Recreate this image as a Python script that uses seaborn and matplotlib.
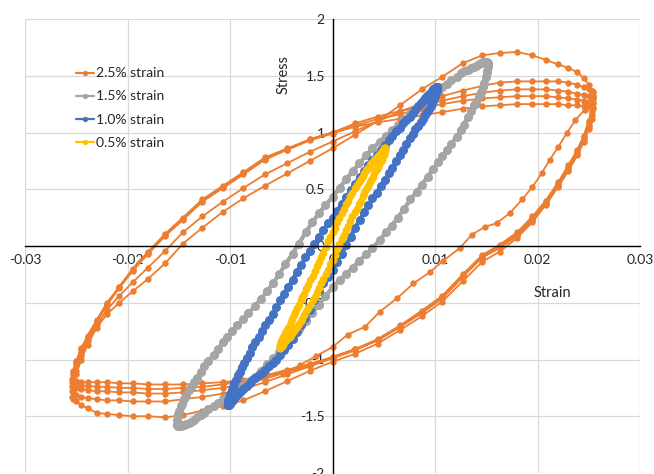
import matplotlib
matplotlib.use("Agg")
import matplotlib.pyplot as plt
import seaborn as sns
import pandas as pd
from matplotlib.lines import Line2D
from matplotlib.ticker import MultipleLocator, FuncFormatter

# ---------------- data ----------------
series_labels = ["2.5% strain", "1.5% strain", "1.0% strain", "0.5% strain"]
series_colors = ["#ED7D31", "#A5A5A5", "#4472C4", "#FFC000"]

x_ticks = [-0.03, -0.02, -0.01, 0.0, 0.01, 0.02, 0.03]
y_ticks = [-2, -1.5, -1, -0.5, 0, 0.5, 1, 1.5, 2]

# 2.5 % strain : initial segment
orange_init_strain = [-0.0048, -0.0032, -0.0016, 0.0, 0.0015, 0.0032, 0.0046, 0.0063, 0.0079, 0.0095,
                      0.0108, 0.0124, 0.0136, 0.0149, 0.0160, 0.0173, 0.0185, 0.0195, 0.0204, 0.0212,
                      0.0220, 0.0229, 0.0237, 0.0246]
orange_init_stress = [-1.13, -1.05, -0.97, -0.89, -0.78, -0.71, -0.58, -0.46, -0.33, -0.23,
                      -0.13, -0.02, 0.10, 0.17, 0.20, 0.29, 0.41, 0.52, 0.64, 0.76,
                      0.87, 1.00, 1.11, 1.20]
# 2.5 % strain : sample strains of one unloading / loading half-cycle
orange_strain_down = [0.0254, 0.0253, 0.0250, 0.0245, 0.0239, 0.0230, 0.0220, 0.0208, 0.0195, 0.0180,
                      0.0163, 0.0146, 0.0127, 0.0107, 0.0087, 0.0066, 0.0044, 0.0022, 0.0, -0.0022,
                      -0.0044, -0.0066, -0.0087, -0.0107, -0.0127, -0.0146, -0.0163, -0.0180, -0.0195,
                      -0.0208, -0.0220, -0.0230, -0.0239, -0.0245, -0.0250, -0.0253, -0.0254]
orange_strain_up = [-0.0253, -0.0250, -0.0245, -0.0239, -0.0230, -0.0220, -0.0208, -0.0195, -0.0180,
                    -0.0163, -0.0146, -0.0127, -0.0107, -0.0087, -0.0066, -0.0044, -0.0022, 0.0, 0.0022,
                    0.0044, 0.0066, 0.0087, 0.0107, 0.0127, 0.0146, 0.0163, 0.0180, 0.0195, 0.0208,
                    0.0220, 0.0230, 0.0239, 0.0245, 0.0250, 0.0253, 0.0254]
orange_c1_down = [1.22, 1.12, 1.03, 0.92, 0.80, 0.66, 0.52, 0.36, 0.21, 0.07, -0.05, -0.14, -0.31, -0.49,
                  -0.62, -0.74, -0.86, -0.95, -1.02, -1.10, -1.19, -1.28, -1.36, -1.41, -1.45, -1.49,
                  -1.51, -1.50, -1.50, -1.49, -1.48, -1.47, -1.43, -1.40, -1.37, -1.35, -1.33]
orange_c1_up = [-1.24, -1.13, -1.00, -0.87, -0.72, -0.60, -0.50, -0.40, -0.29, -0.15, 0.02, 0.16, 0.30,
                0.42, 0.53, 0.64, 0.75, 0.86, 0.98, 1.10, 1.24, 1.38, 1.49, 1.61, 1.68, 1.70, 1.71, 1.68,
                1.64, 1.60, 1.57, 1.53, 1.48, 1.42, 1.37, 1.32]
orange_c2_down = [1.32, 1.20, 1.09, 0.96, 0.84, 0.70, 0.55, 0.39, 0.25, 0.11, 0.00, -0.09, -0.26, -0.45,
                  -0.58, -0.71, -0.83, -0.92, -0.99, -1.06, -1.13, -1.20, -1.26, -1.30, -1.33, -1.35,
                  -1.37, -1.37, -1.37, -1.36, -1.36, -1.35, -1.34, -1.33, -1.31, -1.29, -1.28]
orange_c2_up = [-1.20, -1.10, -0.97, -0.84, -0.70, -0.56, -0.44, -0.32, -0.19, -0.04, 0.12, 0.26, 0.39,
                0.51, 0.63, 0.73, 0.83, 0.92, 1.01, 1.10, 1.18, 1.26, 1.32, 1.37, 1.41, 1.44, 1.45, 1.45,
                1.45, 1.45, 1.44, 1.42, 1.40, 1.38, 1.37, 1.36]
orange_c3_down = [1.36, 1.22, 1.10, 0.97, 0.85, 0.71, 0.56, 0.40, 0.26, 0.12, 0.01, -0.08, -0.25, -0.44,
                  -0.57, -0.70, -0.82, -0.91, -0.98, -1.05, -1.11, -1.17, -1.22, -1.25, -1.27, -1.29,
                  -1.30, -1.30, -1.29, -1.29, -1.28, -1.28, -1.27, -1.26, -1.25, -1.24, -1.23]
orange_c3_up = [-1.14, -1.04, -0.93, -0.81, -0.67, -0.52, -0.37, -0.22, -0.07, 0.09, 0.23, 0.39, 0.51,
                0.63, 0.76, 0.85, 0.94, 1.00, 1.08, 1.14, 1.19, 1.24, 1.28, 1.32, 1.35, 1.37, 1.38, 1.38,
                1.38, 1.37, 1.36, 1.34, 1.33, 1.32, 1.31, 1.30]
orange_c4_down = [1.30, 1.18, 1.07, 0.95, 0.83, 0.69, 0.54, 0.38, 0.24, 0.10, -0.01, -0.10, -0.27, -0.46,
                  -0.59, -0.71, -0.83, -0.91, -0.98, -1.04, -1.10, -1.15, -1.19, -1.22, -1.24, -1.25,
                  -1.26, -1.26, -1.25, -1.25, -1.24, -1.24, -1.23, -1.23, -1.22, -1.21, -1.20]
orange_c4_up = [-1.12, -1.02, -0.91, -0.80, -0.66, -0.51, -0.36, -0.21, -0.06, 0.10, 0.24, 0.40, 0.52,
                0.64, 0.77, 0.85, 0.93, 0.99, 1.06, 1.12, 1.16, 1.21, 1.25, 1.28, 1.30, 1.31, 1.32, 1.32,
                1.32, 1.31, 1.30, 1.29, 1.28, 1.27, 1.27, 1.26]
orange_c5_down = [1.26, 1.15, 1.05, 0.93, 0.81, 0.67, 0.53, 0.37, 0.23, 0.09, -0.02, -0.10, -0.27, -0.46,
                  -0.59, -0.71, -0.83, -0.91, -0.98, -1.04, -1.09, -1.14, -1.18, -1.20, -1.21, -1.22,
                  -1.22, -1.22, -1.21, -1.21, -1.20, -1.20, -1.20, -1.20, -1.19, -1.18, -1.17]
orange_c5_up = [-1.10, -1.01, -0.90, -0.79, -0.65, -0.50, -0.36, -0.20, -0.05, 0.11, 0.25, 0.41, 0.53,
                0.65, 0.78, 0.86, 0.94, 1.00, 1.05, 1.09, 1.12, 1.15, 1.18, 1.21, 1.23, 1.24, 1.25, 1.25,
                1.25, 1.25, 1.24, 1.24, 1.23, 1.23, 1.22, 1.22]

# 1.5 % strain : two cycles
gray_strain_a_down = [0.0152, 0.0151, 0.0150, 0.0147, 0.0143, 0.0138, 0.0132, 0.0125, 0.0116, 0.0107,
                      0.0098, 0.0087, 0.0076, 0.0064, 0.0052, 0.0039, 0.0026, 0.0013, 0.0, -0.0013,
                      -0.0026, -0.0039, -0.0052, -0.0064, -0.0076, -0.0087, -0.0098, -0.0107, -0.0116,
                      -0.0125, -0.0132, -0.0138, -0.0143, -0.0147, -0.0150, -0.0151, -0.0152]
gray_stress_a_down = [1.60, 1.54, 1.49, 1.40, 1.32, 1.24, 1.14, 1.02, 0.90, 0.79, 0.68, 0.54, 0.41, 0.25,
                      0.12, -0.02, -0.13, -0.25, -0.36, -0.52, -0.66, -0.80, -0.93, -1.04, -1.15, -1.23,
                      -1.30, -1.35, -1.41, -1.47, -1.51, -1.55, -1.57, -1.58, -1.59, -1.59, -1.58]
gray_strain_a_up = [-0.0151, -0.0150, -0.0147, -0.0143, -0.0138, -0.0132, -0.0125, -0.0116, -0.0107,
                    -0.0098, -0.0087, -0.0076, -0.0064, -0.0052, -0.0039, -0.0026, -0.0013, 0.0, 0.0013,
                    0.0026, 0.0039, 0.0052, 0.0064, 0.0076, 0.0087, 0.0098, 0.0107, 0.0116, 0.0125,
                    0.0132, 0.0138, 0.0143, 0.0147, 0.0150, 0.0151, 0.0152]
gray_stress_a_up = [-1.50, -1.45, -1.39, -1.31, -1.24, -1.16, -1.06, -0.96, -0.85, -0.75, -0.64, -0.53,
                    -0.40, -0.25, -0.07, 0.12, 0.29, 0.43, 0.59, 0.73, 0.86, 0.97, 1.07, 1.17, 1.26, 1.34,
                    1.40, 1.46, 1.52, 1.55, 1.58, 1.60, 1.62, 1.62, 1.61, 1.60]
gray_strain_b_down = [0.0152, 0.0151, 0.0148, 0.0145, 0.0140, 0.0135, 0.0128, 0.0121, 0.0112, 0.0103,
                      0.0093, 0.0082, 0.0070, 0.0058, 0.0046, 0.0033, 0.0020, 0.0007, -0.0007, -0.0020,
                      -0.0033, -0.0046, -0.0058, -0.0070, -0.0082, -0.0093, -0.0103, -0.0112, -0.0121,
                      -0.0128, -0.0135, -0.0140, -0.0145, -0.0148, -0.0151, -0.0152]
gray_stress_b_down = [1.58, 1.53, 1.44, 1.36, 1.27, 1.19, 1.07, 0.96, 0.85, 0.74, 0.61, 0.48, 0.33, 0.18,
                      0.05, -0.07, -0.19, -0.30, -0.44, -0.59, -0.73, -0.87, -0.99, -1.10, -1.20, -1.27,
                      -1.33, -1.38, -1.44, -1.49, -1.53, -1.56, -1.58, -1.59, -1.59, -1.58]
gray_strain_b_up = [-0.0152, -0.0151, -0.0148, -0.0145, -0.0140, -0.0135, -0.0128, -0.0121, -0.0112,
                    -0.0103, -0.0093, -0.0082, -0.0070, -0.0058, -0.0046, -0.0033, -0.0020, -0.0007,
                    0.0007, 0.0020, 0.0033, 0.0046, 0.0058, 0.0070, 0.0082, 0.0093, 0.0103, 0.0112,
                    0.0121, 0.0128, 0.0135, 0.0140, 0.0145, 0.0148, 0.0151, 0.0152]
gray_stress_b_up = [-1.53, -1.48, -1.41, -1.35, -1.27, -1.20, -1.11, -1.01, -0.91, -0.80, -0.70, -0.59,
                    -0.47, -0.33, -0.16, 0.02, 0.21, 0.36, 0.51, 0.66, 0.80, 0.92, 1.02, 1.12, 1.22, 1.30,
                    1.37, 1.43, 1.49, 1.54, 1.57, 1.59, 1.61, 1.62, 1.62, 1.61]

# 1.0 % strain : two cycles
blue_strain_a_down = [0.0102, 0.01016, 0.01004, 0.00985, 0.00958, 0.00924, 0.00883, 0.00836, 0.00781,
                      0.00721, 0.00656, 0.00585, 0.0051, 0.00431, 0.00349, 0.00264, 0.00177, 0.00089, 0.0,
                      -0.00089, -0.00177, -0.00264, -0.00349, -0.00431, -0.0051, -0.00585, -0.00656,
                      -0.00721, -0.00781, -0.00836, -0.00883, -0.00924, -0.00958, -0.00985, -0.01004,
                      -0.01016, -0.0102]
blue_stress_a_down = [1.40, 1.37, 1.33, 1.28, 1.23, 1.18, 1.12, 1.06, 0.99, 0.90, 0.80, 0.69, 0.58, 0.47,
                      0.36, 0.23, 0.08, -0.07, -0.21, -0.33, -0.48, -0.63, -0.76, -0.87, -0.96, -1.03,
                      -1.09, -1.14, -1.18, -1.23, -1.27, -1.30, -1.34, -1.37, -1.39, -1.40, -1.40]
blue_strain_a_up = [-0.01016, -0.01004, -0.00985, -0.00958, -0.00924, -0.00883, -0.00836, -0.00781,
                    -0.00721, -0.00656, -0.00585, -0.0051, -0.00431, -0.00349, -0.00264, -0.00177,
                    -0.00089, 0.0, 0.00089, 0.00177, 0.00264, 0.00349, 0.00431, 0.0051, 0.00585, 0.00656,
                    0.00721, 0.00781, 0.00836, 0.00883, 0.00924, 0.00958, 0.00985, 0.01004, 0.01016, 0.0102]
blue_stress_a_up = [-1.36, -1.32, -1.27, -1.21, -1.14, -1.07, -0.99, -0.89, -0.80, -0.70, -0.60, -0.48,
                    -0.36, -0.23, -0.10, 0.02, 0.14, 0.25, 0.37, 0.49, 0.61, 0.71, 0.80, 0.89, 0.97, 1.04,
                    1.11, 1.17, 1.23, 1.28, 1.32, 1.35, 1.38, 1.39, 1.40, 1.40]
blue_strain_b_down = [0.01019, 0.01011, 0.00996, 0.00973, 0.00942, 0.00905, 0.0086, 0.00809, 0.00752,
                      0.00689, 0.00621, 0.00548, 0.00471, 0.0039, 0.00307, 0.00221, 0.00133, 0.00044,
                      -0.00044, -0.00133, -0.00221, -0.00307, -0.0039, -0.00471, -0.00548, -0.00621,
                      -0.00689, -0.00752, -0.00809, -0.0086, -0.00905, -0.00942, -0.00973, -0.00996,
                      -0.01011, -0.01019]
blue_stress_b_down = [1.39, 1.35, 1.31, 1.26, 1.21, 1.15, 1.09, 1.03, 0.95, 0.85, 0.75, 0.64, 0.53, 0.42,
                      0.30, 0.16, 0.01, -0.14, -0.27, -0.40, -0.56, -0.70, -0.82, -0.92, -1.00, -1.06,
                      -1.12, -1.16, -1.21, -1.25, -1.29, -1.32, -1.36, -1.38, -1.40, -1.40]
blue_strain_b_up = [-0.01019, -0.01011, -0.00996, -0.00973, -0.00942, -0.00905, -0.0086, -0.00809,
                    -0.00752, -0.00689, -0.00621, -0.00548, -0.00471, -0.0039, -0.00307, -0.00221,
                    -0.00133, -0.00044, 0.00044, 0.00133, 0.00221, 0.00307, 0.0039, 0.00471, 0.00548,
                    0.00621, 0.00689, 0.00752, 0.00809, 0.0086, 0.00905, 0.00942, 0.00973, 0.00996,
                    0.01011, 0.01019]
blue_stress_b_up = [-1.38, -1.34, -1.30, -1.24, -1.18, -1.11, -1.03, -0.94, -0.85, -0.75, -0.65, -0.54,
                    -0.42, -0.30, -0.17, -0.04, 0.08, 0.20, 0.31, 0.43, 0.55, 0.66, 0.76, 0.85, 0.93, 1.01,
                    1.08, 1.14, 1.20, 1.26, 1.30, 1.34, 1.37, 1.39, 1.40, 1.40]

# 0.5 % strain : two cycles
yellow_strain_a_down = [0.0051, 0.00508, 0.00502, 0.00493, 0.00479, 0.00462, 0.00442, 0.00418, 0.00391,
                        0.00361, 0.00328, 0.00293, 0.00255, 0.00216, 0.00174, 0.00132, 0.00089, 0.00044,
                        0.0, -0.00044, -0.00089, -0.00132, -0.00174, -0.00216, -0.00255, -0.00293,
                        -0.00328, -0.00361, -0.00391, -0.00418, -0.00442, -0.00462, -0.00479, -0.00493,
                        -0.00502, -0.00508, -0.0051]
yellow_stress_a_down = [0.86, 0.84, 0.81, 0.79, 0.76, 0.74, 0.70, 0.66, 0.61, 0.56, 0.50, 0.44, 0.37, 0.30,
                        0.22, 0.14, 0.06, -0.03, -0.12, -0.21, -0.29, -0.37, -0.45, -0.52, -0.57, -0.64,
                        -0.69, -0.73, -0.77, -0.80, -0.82, -0.84, -0.86, -0.88, -0.89, -0.90, -0.90]
yellow_strain_a_up = [-0.00508, -0.00502, -0.00493, -0.00479, -0.00462, -0.00442, -0.00418, -0.00391,
                      -0.00361, -0.00328, -0.00293, -0.00255, -0.00216, -0.00174, -0.00132, -0.00089,
                      -0.00044, 0.0, 0.00044, 0.00089, 0.00132, 0.00174, 0.00216, 0.00255, 0.00293,
                      0.00328, 0.00361, 0.00391, 0.00418, 0.00442, 0.00462, 0.00479, 0.00493, 0.00502,
                      0.00508, 0.0051]
yellow_stress_a_up = [-0.88, -0.85, -0.83, -0.80, -0.77, -0.74, -0.70, -0.64, -0.58, -0.52, -0.45, -0.38,
                      -0.30, -0.22, -0.14, -0.06, 0.04, 0.12, 0.21, 0.29, 0.37, 0.44, 0.51, 0.56, 0.62,
                      0.67, 0.71, 0.74, 0.77, 0.79, 0.81, 0.83, 0.84, 0.85, 0.86, 0.86]
yellow_strain_b_down = [0.00509, 0.00506, 0.00498, 0.00486, 0.00471, 0.00452, 0.0043, 0.00405, 0.00376,
                        0.00345, 0.0031, 0.00274, 0.00235, 0.00195, 0.00153, 0.0011, 0.00067, 0.00022,
                        -0.00022, -0.00067, -0.0011, -0.00153, -0.00195, -0.00235, -0.00274, -0.0031,
                        -0.00345, -0.00376, -0.00405, -0.0043, -0.00452, -0.00471, -0.00486, -0.00498,
                        -0.00506, -0.00509]
yellow_stress_b_down = [0.85, 0.83, 0.80, 0.78, 0.75, 0.72, 0.68, 0.64, 0.58, 0.53, 0.47, 0.40, 0.33, 0.26,
                        0.18, 0.10, 0.02, -0.08, -0.16, -0.25, -0.33, -0.41, -0.48, -0.55, -0.61, -0.66,
                        -0.71, -0.75, -0.78, -0.81, -0.83, -0.85, -0.87, -0.88, -0.89, -0.90]
yellow_strain_b_up = [-0.00509, -0.00506, -0.00498, -0.00486, -0.00471, -0.00452, -0.0043, -0.00405,
                      -0.00376, -0.00345, -0.0031, -0.00274, -0.00235, -0.00195, -0.00153, -0.0011,
                      -0.00067, -0.00022, 0.00022, 0.00067, 0.0011, 0.00153, 0.00195, 0.00235, 0.00274,
                      0.0031, 0.00345, 0.00376, 0.00405, 0.0043, 0.00452, 0.00471, 0.00486, 0.00498,
                      0.00506, 0.00509]
yellow_stress_b_up = [-0.87, -0.86, -0.84, -0.82, -0.79, -0.76, -0.72, -0.67, -0.61, -0.55, -0.48, -0.42,
                      -0.34, -0.26, -0.18, -0.10, -0.01, 0.08, 0.16, 0.25, 0.33, 0.40, 0.47, 0.54, 0.59,
                      0.64, 0.69, 0.73, 0.76, 0.78, 0.80, 0.82, 0.84, 0.85, 0.86, 0.86]

# ---------------- assemble series in drawing order ----------------
orange_strain = orange_init_strain + (orange_strain_down + orange_strain_up) * 5
orange_stress = (orange_init_stress
                 + orange_c1_down + orange_c1_up + orange_c2_down + orange_c2_up
                 + orange_c3_down + orange_c3_up + orange_c4_down + orange_c4_up
                 + orange_c5_down + orange_c5_up)
gray_strain = gray_strain_a_down + gray_strain_a_up + gray_strain_b_down + gray_strain_b_up
gray_stress = gray_stress_a_down + gray_stress_a_up + gray_stress_b_down + gray_stress_b_up
blue_strain = blue_strain_a_down + blue_strain_a_up + blue_strain_b_down + blue_strain_b_up
blue_stress = blue_stress_a_down + blue_stress_a_up + blue_stress_b_down + blue_stress_b_up
yellow_strain = yellow_strain_a_down + yellow_strain_a_up + yellow_strain_b_down + yellow_strain_b_up
yellow_stress = yellow_stress_a_down + yellow_stress_a_up + yellow_stress_b_down + yellow_stress_b_up

series = [
    (orange_strain, orange_stress, 4.6, 1.3),
    (gray_strain, gray_stress, 6.5, 2.6),
    (blue_strain, blue_stress, 6.5, 2.6),
    (yellow_strain, yellow_stress, 5.6, 2.0),
]

# ---------------- figure ----------------
sns.set_theme(style="white")
plt.rcParams['font.family'] = ['Lato', 'DejaVu Sans']
plt.rcParams['axes.unicode_minus'] = False

fig = plt.figure(figsize=(6.54, 4.74), dpi=100)
ax = fig.add_axes([25 / 654, 1 / 474, 615 / 654, 454 / 474])

for (sx, sy, ms, lw), color, label in zip(series, series_colors, series_labels):
    df = pd.DataFrame({"Strain": sx, "Stress": sy})
    sns.lineplot(data=df, x="Strain", y="Stress", sort=False, estimator=None,
                 color=color, marker="o", markersize=ms, markeredgewidth=0,
                 linewidth=lw, ax=ax, legend=False)

ax.set_xlim(-0.03, 0.03)
ax.set_ylim(-2, 2)
ax.set_xticks(x_ticks)
ax.set_yticks(y_ticks)
ax.xaxis.set_minor_locator(MultipleLocator(0.002))
ax.yaxis.set_minor_locator(MultipleLocator(0.1))
ax.xaxis.set_major_formatter(FuncFormatter(lambda v, p: "0" if abs(v) < 1e-12 else f"{v:g}"))
ax.yaxis.set_major_formatter(FuncFormatter(lambda v, p: "0" if abs(v) < 1e-12 else f"{v:g}"))

ax.set_xlabel("")
ax.set_ylabel("")
for s in ["top", "right"]:
    ax.spines[s].set_visible(False)
ax.spines["left"].set_position(("data", 0))
ax.spines["bottom"].set_position(("data", 0))
for s in ["left", "bottom"]:
    ax.spines[s].set_color("#000000")
    ax.spines[s].set_linewidth(1.0)
    ax.spines[s].set_zorder(3)

ax.tick_params(which="major", direction="inout", length=7, width=1.0, color="#000000",
               labelsize=10, labelcolor="#262626", pad=2)
ax.tick_params(which="minor", direction="out", length=3.5, width=0.8, color="#000000")

ax.grid(True, which="major", color="#d9d9d9", linewidth=0.9)
ax.set_axisbelow(True)

ax.text(0.42, 0.877, "Stress", rotation=90, transform=ax.transAxes,
        ha="center", va="center", fontsize=10.5, color="#262626")
ax.text(0.857, 0.396, "Strain", transform=ax.transAxes,
        ha="center", va="center", fontsize=10.5, color="#262626")

handles = [Line2D([0], [0], color=c, marker="o", markersize=3.8, markeredgewidth=0, linewidth=1.6)
           for c in series_colors]
ax.legend(handles, series_labels, loc="upper left", bbox_to_anchor=(0.062, 0.921),
          frameon=False, fontsize=10, handlelength=1.3, handletextpad=0.2,
          labelspacing=0.8, borderpad=0.4, labelcolor="#262626")

fig.savefig("out.png", dpi=100)
